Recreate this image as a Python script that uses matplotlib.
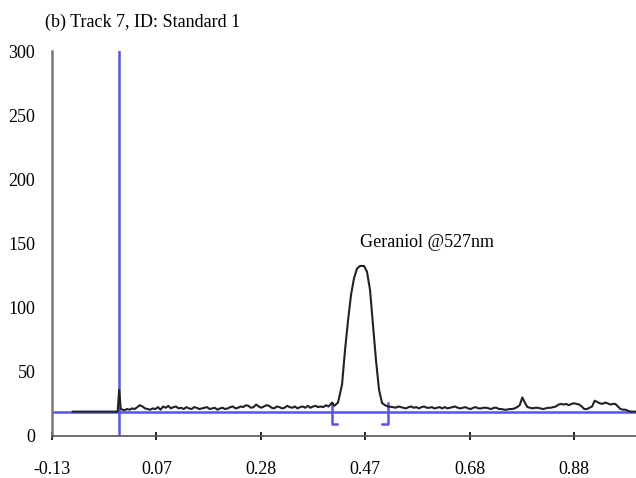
import matplotlib
matplotlib.use('Agg')
import matplotlib.pyplot as plt
import numpy as np

# Data
flat_x = [-0.09, -0.005]
flat_y = [19, 19]

spike_x = [-0.003, 0.0, 0.003]
spike_y = [19, 36, 21]

# noisy baseline before the peak, sampled every 0.005 from 0.010
noise_left_start = 0.010
noise_left_y = [20, 21, 20.5, 21.5, 21, 22.5, 24, 23, 21.5, 21,
                20.5, 21.5, 21, 22.5, 20.5, 23, 22, 23.5, 21.5, 22.5,
                23, 21.5, 22, 21, 22.5, 21.5, 21, 22.5, 22, 21,
                21.5, 22, 22.5, 21, 21.5, 22, 20.5, 21.5, 22, 21,
                21.5, 22.5, 23, 21.5, 22, 23, 22.5, 24, 23.5, 22,
                22.5, 24.5, 23, 22, 23, 24, 23.5, 22, 21.5, 23,
                22.5, 21.5, 22, 23.5, 22.5, 22, 23, 21.5, 22.5, 23,
                22, 23.5, 22, 23, 23.5, 22.5, 23, 22.5, 24]

notch_x = [0.405, 0.412, 0.416]
notch_y = [23, 26, 23.5]

peak_x = [0.4234, 0.4312, 0.437, 0.4428, 0.4486, 0.4544, 0.4602, 0.466,
          0.4737, 0.4795, 0.4853, 0.4911, 0.4969, 0.5028, 0.5086, 0.5144, 0.520]
peak_y = [26, 40, 67, 90, 110, 123, 130.5, 132.5,
          132.5, 128, 114, 86.5, 59, 36, 25.7, 24, 23]

# noisy baseline after the peak, sampled every 0.005 from 0.530
noise_right_start = 0.530
noise_right_y = [22.5, 22, 23, 22.5, 22, 21.5, 22.5, 23, 22, 22.5,
                 21.5, 22.5, 23, 22, 22, 22.5, 21.5, 22, 22.5, 21.5,
                 22.5, 21.5, 22, 22.5, 23, 22, 21.5, 22, 22.5, 21.5,
                 21, 22, 22.5, 21.5, 21.5, 22, 22, 21.5, 21, 22,
                 22, 21, 21, 20.5, 20.5, 21, 21, 21.5, 22.5, 24,
                 30, 26, 22.5, 22, 21.5, 22, 22, 21.5, 21, 21.5,
                 22, 22, 22.5, 23, 24.5, 25, 24.5, 25, 24, 25,
                 25.5, 25, 24.5, 23, 21, 21, 22, 23, 27.5, 26.5,
                 25.5, 25, 26, 25.5, 24.5, 25, 25, 23, 21, 20.5,
                 20.5, 19.5, 19, 19, 19]
step = 0.005

baseline_level = 19
marker_x = 0.0
bracket_left = [0.412, 0.4215]
bracket_right = [0.5086, 0.520]
bracket_top = 25.7
bracket_bottom = 9.4

tick_pos = [-0.13 + 0.202 * k for k in range(6)]
tick_labels = ['-0.13', '0.07', '0.28', '0.47', '0.68', '0.88']
y_ticks = [0, 50, 100, 150, 200, 250, 300]

plt.rcParams['font.family'] = ['Liberation Serif', 'DejaVu Serif']

fig = plt.figure(figsize=(6.36, 4.78), dpi=100)
ax = fig.add_axes([52 / 636, 42 / 478, 584 / 636, 385 / 478])

blue = '#5555ee'
trace = '#222222'

# baseline and marker
ax.axhline(baseline_level, color=blue, lw=1.8, zorder=1)
ax.axvline(marker_x, color=blue, lw=1.8, zorder=1)

# integration brackets
ax.plot([bracket_left[0], bracket_left[0], bracket_left[1]],
        [bracket_top, bracket_bottom, bracket_bottom], color=blue, lw=1.8)
ax.plot([bracket_right[0], bracket_right[1], bracket_right[1]],
        [bracket_bottom, bracket_bottom, bracket_top], color=blue, lw=1.8)

# chromatogram trace
left_x = list(noise_left_start + step * np.arange(len(noise_left_y)))
right_x = list(noise_right_start + step * np.arange(len(noise_right_y)))
xs = flat_x + spike_x + left_x + notch_x + peak_x + right_x
ys = flat_y + spike_y + noise_left_y + notch_y + peak_y + noise_right_y
ax.plot(xs, ys, color=trace, lw=1.5, zorder=3)

ax.text(0.466, 151, 'Geraniol @527nm', fontsize=13, va='center', ha='left')

ax.set_xlim(-0.13, 1.0)
ax.set_ylim(0, 300)
ax.set_xticks(tick_pos)
ax.set_xticklabels(tick_labels)
ax.set_yticks(y_ticks)

for s in ['top', 'right']:
    ax.spines[s].set_visible(False)
ax.spines['left'].set_color('#777777')
ax.spines['left'].set_linewidth(1.8)
ax.spines['bottom'].set_color('#555555')
ax.spines['bottom'].set_linewidth(1.2)

ax.tick_params(axis='x', direction='inout', length=6, width=1.2, pad=15, labelsize=13)
ax.tick_params(axis='y', length=0, pad=12, labelsize=13)

fig.text(45 / 636, 1 - 22 / 478, '(b) Track 7, ID: Standard 1', fontsize=13,
         va='center', ha='left')

fig.savefig('out.png', dpi=100)
